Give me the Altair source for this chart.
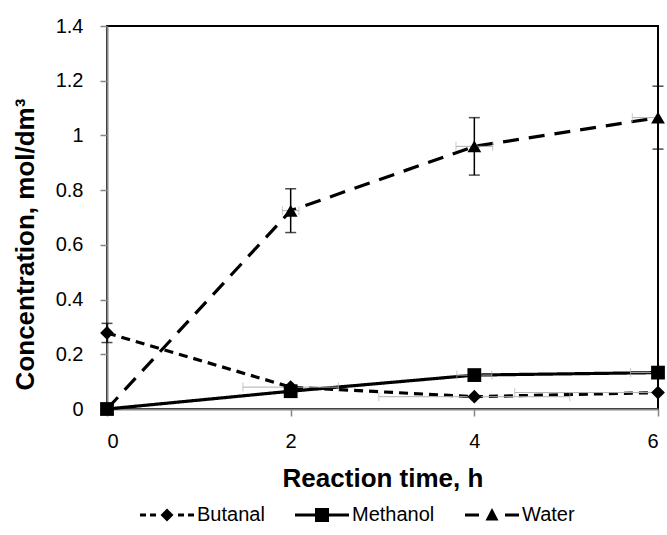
import altair as alt
import pandas as pd

# ---------------- data ----------------
series = ["Butanal", "Methanol", "Water"]
time_h = [0, 2, 4, 6]
butanal = [0.278, 0.080, 0.045, 0.060]
methanol = [0.000, 0.065, 0.124, 0.133]
water = [0.000, 0.725, 0.960, 1.065]
# vertical (concentration) error half-widths
butanal_yerr = [0.035, 0.0, 0.0, 0.0]
methanol_yerr = [0.0, 0.0, 0.0, 0.0]
water_yerr = [0.0, 0.080, 0.105, 0.115]
# horizontal (time) error half-widths
butanal_xerr = [0.0, 0.52, 1.04, 1.56]
methanol_xerr = [0.0, 0.0, 0.19, 0.30]
water_xerr = [0.0, 0.09, 0.20, 0.28]
y_ticks = [0, 0.2, 0.4, 0.6, 0.8, 1.0, 1.2, 1.4]
x_ticks = [0, 2, 4, 6]

rows = []
for name, vals, ye_, xe_ in [
    ("Butanal", butanal, butanal_yerr, butanal_xerr),
    ("Methanol", methanol, methanol_yerr, methanol_xerr),
    ("Water", water, water_yerr, water_xerr),
]:
    for t, v, e, h in zip(time_h, vals, ye_, xe_):
        rows.append(dict(series=name, t=t, c=v, yerr=e, xerr=h,
                         lo=v - e, hi=v + e, xlo=t - h, xhi=t + h))
df = pd.DataFrame(rows)
df_y = df[df.yerr > 0]
df_x = df[df.xerr > 0]

FONT = "Liberation Sans"
XT = "Reaction time, h"
YT = "Concentration, mol/dm³"

xscale = alt.Scale(domain=[0, 6], nice=False)
yscale = alt.Scale(domain=[0, 1.4], nice=False)


def xe(field):
    return alt.X(field, type="quantitative", scale=xscale, title=XT,
                 axis=alt.Axis(values=x_ticks, format="d"))


def ye(field):
    return alt.Y(field, type="quantitative", scale=yscale, title=YT,
                 axis=alt.Axis(values=y_ticks, format=".1~f", titleY=218))


lines = alt.Chart(df).mark_line(color="black", strokeWidth=3.2).encode(
    x=xe("t"), y=ye("c"), detail="series:N",
    strokeDash=alt.StrokeDash("series:N", legend=None,
                              scale=alt.Scale(domain=series,
                                              range=[[9, 6], [1, 0], [16, 10]])),
)

points = alt.Chart(df).mark_point(filled=True, color="black", opacity=1, size=190).encode(
    x=xe("t"), y=ye("c"),
    shape=alt.Shape("series:N", legend=None,
                    scale=alt.Scale(domain=series,
                                    range=["diamond", "square", "triangle-up"])),
)

ebar_y = alt.Chart(df_y).mark_errorbar(
    color="black", thickness=1.5, ticks=alt.MarkConfig(size=11, color="black")
).encode(x=xe("t"), y=ye("lo"), y2="hi")

ebar_x = alt.Chart(df_x).mark_errorbar(
    color="#b0b0b0", thickness=1, clip=True, ticks=alt.MarkConfig(size=9, color="#b0b0b0")
).encode(x=xe("xlo"), x2="xhi", y=ye("c"))


# ------------- legend symbols (line + marker) -------------
HALF = 27.0  # half width of legend symbol in px


def u(v):
    return round(v / HALF, 4)


def rect(x0, x1, h=1.6):
    return f"M{u(x0)},{u(-h)}L{u(x1)},{u(-h)}L{u(x1)},{u(h)}L{u(x0)},{u(h)}Z"


diamond = f"M{u(-6.5)},0L0,{u(-6.5)}L{u(6.5)},0L0,{u(6.5)}Z"
square = f"M{u(-7)},{u(-7)}L{u(7)},{u(-7)}L{u(7)},{u(7)}L{u(-7)},{u(7)}Z"
tri = f"M{u(-6.5)},{u(5.5)}L0,{u(-7)}L{u(6.5)},{u(5.5)}Z"
sym_butanal = rect(-27, -21) + rect(-17, -11) + diamond + rect(11, 17) + rect(21, 27)
sym_methanol = rect(-27, 27) + square
sym_water = rect(-27, -13) + tri + rect(13, 27)

leg_df = pd.DataFrame({"series": series, "t": [-10] * 3, "c": [0] * 3})
legend_layer = alt.Chart(leg_df).mark_point(filled=True, color="black", opacity=1, clip=True).encode(
    x=xe("t"), y=ye("c"),
    shape=alt.Shape("series:N",
                    scale=alt.Scale(domain=series,
                                    range=[sym_butanal, sym_methanol, sym_water]),
                    legend=alt.Legend(title=None, orient="none", direction="horizontal",
                                      legendX=33, legendY=462,
                                      symbolSize=(2 * HALF) ** 2, symbolStrokeWidth=0,
                                      symbolFillColor="black", symbolOpacity=1,
                                      labelFontSize=20, labelFont=FONT, labelColor="black",
                                      labelOffset=3, columnPadding=30)),
)

chart = alt.layer(lines, ebar_x, ebar_y, points, legend_layer).resolve_scale(
    shape="independent"
).properties(
    width=551, height=383,
    autosize=alt.AutoSizeParams(type="none"),
    padding={"left": 107, "top": 26, "right": 9, "bottom": 126},
    background="white",
).configure_view(
    stroke="black", strokeWidth=2
).configure_axis(
    grid=False, domainColor="#868686", domainWidth=2, tickColor="#868686",
    tickWidth=1.5, tickSize=7, labelFont=FONT, labelFontSize=20, labelColor="black",
    titleFont=FONT, titleFontSize=26, titleFontWeight="bold", titleColor="black",
).configure_axisX(
    labelPadding=15, titlePadding=14
).configure_axisY(
    labelPadding=17, titlePadding=17
)

chart.save("out.html", embed_options={"renderer": "svg", "actions": False})
